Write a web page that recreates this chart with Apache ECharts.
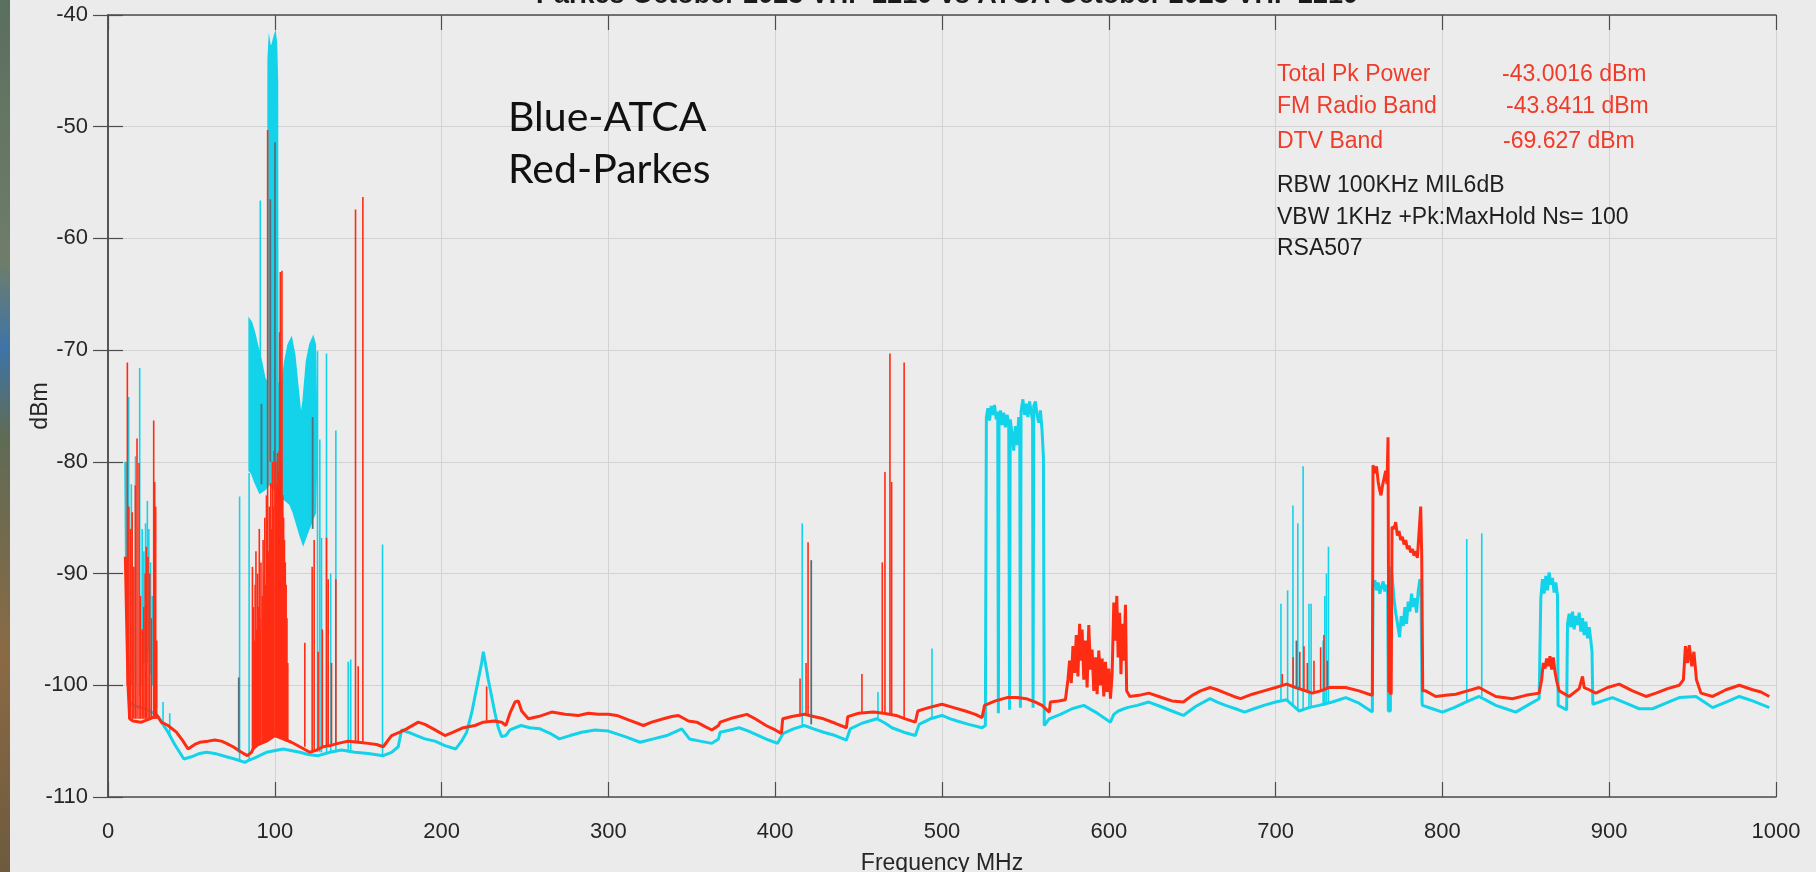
<!DOCTYPE html>
<html>
<head>
<meta charset="utf-8">
<script src="https://cdn.jsdelivr.net/npm/echarts@6/dist/echarts.min.js"></script>
<style>
html,body{margin:0;padding:0;background:#ebebeb;}
#chart{width:1816px;height:872px;}
</style>
</head>
<body>
<div id="chart"></div>
<script>
// ---------- axis ticks ----------
const xTicks = [0,100,200,300,400,500,600,700,800,900,1000];
const yTicks = [-110,-100,-90,-80,-70,-60,-50,-40];

// ---------- ATCA (cyan) trace: [MHz, dBm] ----------
const atcaTrace = [
[10.6,-80],[11,-88],[12,-97],[13,-101.5],[15,-101.8],[20,-102],[25,-102.3],[29.5,-102.7],[33,-103.5],[36,-104.2],[40,-105.3],[45.5,-106.6],[50,-106.4],[55,-106.1],[59,-106],[64,-106.1],[71,-106.4],[76,-106.6],[82,-106.9],[84.6,-106.7],
[88,-106.5],[95,-106],[105,-105.7],[115,-106],[120,-106.2],[126,-106.3],[133,-106],[140,-105.8],[148,-106],[156,-106.1],[165,-106.3],[170,-106],[174,-105.5],[176,-104],[180,-104.2],[185,-104.5],[190,-104.8],[196,-105],[202,-105.4],[208.5,-105.7],[212,-105],[215,-104.2],[218,-102.5],[220,-101],[222,-99.5],[224,-98],[225,-97],[226,-97.8],[228,-99.5],[230,-101],[232,-102.5],[234,-103.8],[236,-104.6],[238.5,-104.5],[241,-104],[247.6,-103.6],[253,-103.8],[259,-103.9],[265,-104.3],[270.6,-104.8],[277,-104.5],[284,-104.2],[292,-104],[300,-104.1],[310,-104.6],[319,-105.1],[327,-104.8],[335,-104.5],[344,-103.9],[348.6,-104.8],[355,-105],[362,-105.2],[366,-104.8],[367,-104.2],[373,-104],[378.4,-103.8],[384,-104.1],[390,-104.5],[396,-104.9],[401.4,-105.2],[404.8,-104.3],[411,-103.9],[417.4,-103.6],[423,-103.9],[429,-104.2],[436,-104.5],[442.7,-104.9],[445,-103.9],[452,-103.4],[461,-103],[466,-103.4],[470,-103.8],[477,-104.2],[484,-104.5],[486.3,-103.5],[493,-103],[500,-102.7],[505,-103],[509,-103.2],[516,-103.5],[524,-103.8],[526,-103.6],
[526.6,-76],[527.5,-75.2],[528.5,-76.3],[529.5,-75],[530.5,-75.8],[531.5,-74.9],[532.5,-76.2],[533.4,-75.5],[533.8,-102.5],[534.2,-76],[535,-75.4],[536,-76.7],[537,-75.6],[538,-76.9],[539,-75.8],[540,-76.5],[540.5,-102.2],[540.9,-76.2],[542,-77.5],[543,-79],[544,-76.8],[545,-78.5],[546,-76],[546.6,-77],[547,-102],[547.4,-75.5],[548.5,-74.4],[549.5,-75.8],[550.5,-74.8],[551.5,-76],[552.5,-74.6],[553.5,-75.6],[554.3,-76.3],[554.6,-102],[555,-75],[556,-74.6],[557,-75.8],[558,-76.5],[559,-75.4],[560,-77.2],[560.8,-79.6],[561.3,-103.6],
[562,-103.6],[564.3,-103],[571,-102.6],[578,-102.1],[585,-101.8],[592,-102.4],[601,-103.3],[603,-102.6],[605.7,-102.3],[611,-102],[617,-101.8],[624,-101.5],[631,-101.9],[637.8,-102.3],[644.7,-102.7],[652,-101.9],[660.7,-101.2],[665,-101.5],[670,-101.8],[676,-102.1],[681.4,-102.4],[687,-102.1],[693,-101.8],[700,-101.5],[706.6,-101.3],[714,-102.3],[720,-102],[726,-101.8],[734,-101.5],[742,-101.1],[750,-101.6],[758,-102.4],
[758.4,-91],[759.5,-90.6],[760.5,-91.5],[761.5,-90.8],[762.5,-91.8],[763.5,-91.2],[764.5,-90.7],[765.5,-91.6],[766.5,-91],[767.2,-91.8],[767.6,-102.3],[768.8,-102.3],[769.2,-89.4],[770,-90.5],[771,-92.3],[772,-93.5],[773,-94.4],[774.3,-95.7],[775.3,-93.8],[776.5,-94.7],[777.5,-93],[778.5,-94.5],[779.5,-92.5],[780.5,-93.4],[781.5,-91.8],[782.5,-93],[783.5,-92.2],[784.5,-93.5],[785.5,-91.6],[786.5,-90.5],[787.2,-91.5],[787.8,-101.5],
[788,-101.8],[794,-102.1],[800,-102.4],[807,-102],[814,-101.5],[822,-101],[827,-101.4],[832,-101.8],[838,-102.1],[844,-102.4],[851,-101.8],[858,-101.2],
[859,-92.2],[860,-90.5],[861,-91.8],[862,-90.2],[863,-91.5],[864,-89.9],[865,-91],[866,-90.4],[867,-91.7],[868,-90.8],[869,-92],[869.4,-101.8],[872,-102],[874.5,-102.2],[875,-94.5],[876,-93.6],[877,-94.8],[878,-93.4],[879,-95],[880,-93.8],[881,-94.6],[882,-93.5],[883,-95.2],[884,-94],[885,-95.5],[886,-94.3],[887,-95.8],[888,-94.8],[889,-96],[889.7,-97],[890.2,-101.7],[896,-101.4],[902,-101.1],[910,-101.6],[918,-102.1],[926,-102.1],[934,-101.6],[942,-101.1],[952,-101],[957,-101.5],[962,-102],[970,-101.5],[978,-101],[986,-101.4],[996,-102]
];

// ATCA FM-band envelope (upper and lower edge of the dense trace)
const atcaFmUpper = [[84.6,-67.2],[86,-67.5],[88,-68.5],[90,-69.8],[92,-71],[94,-72.5],[95.8,-73],[96,-44],[96.6,-42.2],[97.5,-43],[98.5,-42.6],[99.5,-42],[100.3,-41.6],[101,-42.5],[101.6,-46],[101.8,-73],[104.3,-72.8],[106,-71],[108,-69.5],[110,-68.9],[112,-70.5],[114,-73.5],[115.7,-76],[117,-74.5],[119,-71],[121,-69.5],[123,-68.8],[124.3,-69.5],[125,-76]];
const atcaFmLower = [[84.6,-80.8],[86,-81],[88,-81.8],[91,-82.8],[94,-82.5],[97,-82],[100,-82.5],[103,-83.2],[106,-83.4],[109,-83.8],[111,-84.5],[113,-85.5],[115,-86.5],[117,-87.4],[119,-86.6],[121,-85.8],[123,-85],[124.3,-84.6],[125,-80]];

// ATCA narrow spikes: [MHz, base dBm, peak dBm]
const atcaSpikes = [
[12.4,-95,-74.2],[14,-100,-82],[16.5,-100,-79.5],[19,-101,-71.6],[20.5,-100,-86],[21.5,-98,-88],[22.5,-97,-85.5],[23.6,-98,-83.5],[24.5,-97,-86],[25.5,-99,-89],[26.5,-100,-92],[29,-102,-97],[33,-103.5,-101.5],[37,-104.5,-102.5],
[78.9,-106.8,-83.1],[84.6,-106.7,-81],[91.3,-82,-56.6],[125.6,-106,-70.1],[127,-106,-78],[128,-106,-86.8],[131,-106,-70.3],[133.5,-106,-90],[136.6,-106,-77.2],[144,-106,-97.9],[145.5,-105.8,-97.7],[164.6,-106.3,-87.4],
[416.2,-103.7,-85.5],[461.6,-103,-100.6],[494,-103,-96.7],
[703.2,-101.3,-92.7],[707.2,-101.4,-91.5],[710.4,-101.8,-83.9],[713.3,-102.2,-85.5],[716.5,-102.3,-80.4],[720,-102.1,-92.7],[721.3,-102,-92.7],[728.5,-101.8,-96],[729.5,-101.8,-92],[730.5,-101.7,-90],[731.7,-101.6,-87.6],[814.6,-101.5,-86.9],[823.6,-101,-86.4]
];

// ---------- Parkes (red) trace: [MHz, dBm] ----------
const parkesTrace = [
[10.4,-88.5],[11,-93],[12,-100],[13,-103],[15,-103.2],[20,-103.3],[25,-103],[29.5,-102.7],[32,-103.3],[36,-103.6],[41,-104.2],[45,-105],[48,-105.7],[52,-105.3],[55,-105.1],[60,-105],[64,-104.9],[68,-105],[71,-105.2],[75,-105.5],[80,-106],[83.5,-106.3],[86,-106],[87,-105.7],[90,-105.3],[95,-105],[100,-104.5],[105,-104.8],[110,-105.1],[115,-105.5],[121,-106],[125,-105.8],[129,-105.5],[133,-105.4],[138,-105.2],[144,-105],[150,-105.1],[156,-105.2],[161,-105.3],[165,-105.5],[170,-104.5],[175,-104.2],[179,-103.9],[186,-103.3],[190,-103.5],[195,-103.9],[202,-104.5],[207,-104.2],[213,-103.8],[220,-103.6],[225,-103.3],[231.5,-103.2],[236,-103.3],[238.5,-103.6],[241,-102.5],[244,-101.5],[246,-101.4],[248,-102.3],[252,-103],[258,-102.8],[266,-102.4],[274,-102.6],[282,-102.7],[288,-102.5],[294,-102.6],[300,-102.6],[305,-102.7],[312,-103.1],[321,-103.6],[326,-103.3],[333,-103],[338,-102.8],[342,-102.7],[348,-103.2],[353,-103.3],[358,-103.7],[362,-104],[366,-103.6],[367,-103.3],[375,-102.9],[383,-102.6],[388,-103],[394.5,-103.6],[400,-104],[403.7,-104.3],[404.5,-103],[410,-102.8],[417.5,-102.6],[423,-102.8],[429,-103],[436,-103.4],[442.7,-103.8],[443.5,-102.8],[450,-102.5],[458.8,-102.4],[465,-102.5],[472.5,-102.7],[478,-103],[484,-103.3],[485.5,-102.3],[492,-102],[500,-101.7],[507,-102],[514,-102.3],[520,-102.6],[524,-102.9],[525.5,-101.8],[532,-101.4],[539,-101.1],[545,-101.1],[550.5,-101.2],[556,-101.5],[560,-101.8],[564.3,-102.4],[565,-101.5],[570,-101.4],[574,-101.3],
[575.5,-99.5],[576.5,-97.8],[577.5,-99.8],[578.5,-96.5],[579.5,-98.9],[580.5,-95.5],[581.5,-99.2],[582.5,-94.5],[583.3,-97.8],[584,-95],[585,-99.5],[586,-96],[587,-100.2],[588,-94.6],[589,-98.6],[590,-96.8],[591,-100.5],[592,-97.5],[593,-100.8],[594,-96.9],[595,-100],[596,-97.6],[597,-101],[598,-97.9],[599,-100.6],[600,-98.5],[601,-101.2],[602,-99],[603,-92.6],[604,-96],[604.8,-92],[605.6,-97.5],[606.5,-93.5],[607.3,-99],[608,-94.5],[609,-97.8],[610,-92.8],[610.7,-100.5],
[612.6,-101],[618,-100.9],[624,-100.7],[630,-101],[637.8,-101.4],[644.7,-101.5],[650,-100.9],[655,-100.5],[660.7,-100.2],[665,-100.4],[670,-100.7],[675,-101],[679,-101.2],[686,-100.8],[693,-100.5],[700,-100.2],[706.6,-99.9],[712,-100.2],[722,-100.7],[727,-100.5],[732,-100.2],[742,-100.2],[750,-100.5],[756,-100.8],[758,-100.9],
[758.4,-80.3],[759.5,-81],[760.5,-80.4],[761.5,-81.8],[762.5,-82.6],[763.2,-83],[764,-82.2],[765,-81.5],[766,-80.8],[766.8,-82],[767.4,-77.8],[767.9,-100.5],[769.3,-100.8],[769.8,-85.8],[771,-86],[772,-85.4],[773,-86.6],[774,-86.2],[775,-87],[776,-86.7],[777,-87.4],[778,-87],[779,-87.8],[780,-87.5],[781,-88.1],[782,-87.8],[783,-88.4],[784,-88],[785,-88.6],[786,-88.5],[787,-84],[787.6,-88.5],[788.2,-100.5],
[790,-100.5],[796,-101],[802,-100.9],[808,-100.8],[815,-100.5],[822,-100.2],[827,-100.6],[832,-101],[842,-101.2],[850,-100.9],[858,-100.7],
[859.5,-99.5],[860.5,-98],[861.5,-98.5],[862.5,-97.6],[863.5,-98.3],[864.5,-97.4],[865.5,-98.6],[866.5,-97.5],[867.5,-98.8],[868.5,-99.6],[870,-100.5],[876,-101],[882,-100.3],[884,-99.2],[885,-100.2],[888,-100.4],[892,-100.7],[899,-100.2],[906,-99.9],[914,-100.5],[922,-101],[928,-100.7],[935,-100.3],[942,-100],[944.5,-99.5],[945.7,-96.5],[947,-98],[948,-96.4],[949.5,-98.3],[950.8,-97],[952.3,-99.5],[955,-100.7],[962,-101],[970,-100.4],[978,-100],[986,-100.4],[991,-100.6],[996,-101]
];

// Parkes narrow spikes: [MHz, base dBm, peak dBm]
const parkesSpikes = [
[11.6,-100,-71.1],[12.5,-103,-84],[13.5,-103,-86],[14.5,-103,-84.5],[15.5,-103,-89.4],[16.4,-103,-82.1],[17.4,-103,-77.9],[18.6,-103,-80.1],[19.5,-103,-92],[20.5,-103,-95],[21.5,-103,-93],[22.3,-103,-90],[23,-103,-87.6],[24,-103,-88.5],[25,-103,-90],[26,-103,-94],[27.4,-103,-76.3],[28,-103,-81.8],[28.6,-103,-84],[29.2,-103,-96],
[86.6,-105.8,-89.4],[87.2,-105.7,-93],[87.7,-105.6,-96],[88.2,-105.6,-91],[88.7,-105.5,-88],[89.2,-105.4,-95],[89.7,-105.4,-90],[90.2,-105.3,-93],[90.7,-105.3,-86],[91.2,-105.2,-94],[91.7,-105.2,-89],[92.5,-105.1,-92],[93,-105.1,-87],[93.5,-105,-90],[94,-105,-85],[94.5,-105,-91],[95,-105,-83],[95.7,-105,-50.3],[96.2,-104.9,-88],[96.7,-104.8,-84],[97.6,-104.7,-81.9],[98.1,-104.7,-86],[98.6,-104.6,-80],[99.1,-104.6,-84],[99.6,-104.5,-79],[100.6,-104.5,-80],[101.1,-104.6,-82],[101.6,-104.6,-79.2],[102.1,-104.6,-81],[102.6,-104.7,-79],[102.9,-104.7,-68.4],[103.3,-104.7,-63],[103.8,-104.7,-80],[104.3,-104.8,-62.9],[104.8,-104.8,-83],[105.3,-104.8,-85],[105.8,-104.9,-87],[106.3,-104.9,-89],[106.8,-105,-91],[107.3,-105,-94],[107.8,-105,-98],
[118,-105.5,-96.2],[122.4,-105.9,-89.4],[123.6,-105.9,-87],[126,-105.8,-97],[128.5,-105.6,-95],[131,-105.5,-86.8],[132,-105.5,-90.5],[134,-105.4,-98],[136.6,-105.3,-90.5],[148.4,-105.1,-57.4],[150,-105.1,-98.3],[152.8,-105.1,-56.3],[227,-103.3,-100.1],
[414.9,-102.8,-99.4],[418.5,-102.6,-98],[419.7,-102.6,-87.2],[452,-102.5,-99],[464.2,-102.5,-89],[465.8,-102.5,-80.9],[468.8,-102.6,-70.3],[469.8,-102.6,-81.8],[477.3,-103,-71.1],
[704,-100,-99],[710.5,-100.2,-97.5],[714.5,-100.4,-97],[717,-100.5,-96.5],[719,-100.5,-98],[723,-100.6,-97.8],[727,-100.5,-96.6],[729,-100.4,-95.5],[731,-100.3,-97.8]
];

// Places where both traces overlap (appear dark): [MHz, low dBm, high dBm]
const overlapSpikes = [
[78.4,-106,-99.3],[92,-82,-74.8],[97.3,-80,-56.5],[100.1,-80,-51.4],[122.7,-86,-76],[421.6,-103.5,-88.8],[712.5,-100.3,-96]
];

// ---------- styles ----------
const CYAN = '#12d3ea';
const RED = '#ff2c14';
const DARK = '#55707a';
const TXT = '#262626';
const FONT = '"Liberation Sans", Arial, Helvetica, sans-serif';

function spikeRenderer(color, width) {
  return function (params, api) {
    const p0 = api.coord([api.value(0), api.value(1)]);
    const p1 = api.coord([api.value(0), api.value(2)]);
    return {
      type: 'line',
      shape: { x1: p0[0], y1: p0[1], x2: p1[0], y2: p1[1] },
      style: { stroke: color, lineWidth: width }
    };
  };
}

function bandRenderer(upper, lower, color) {
  return function (params, api) {
    if (params.dataIndex !== 0) return null;
    const pts = upper.map(p => api.coord(p)).concat(lower.slice().reverse().map(p => api.coord(p)));
    return { type: 'polygon', shape: { points: pts }, style: { fill: color, stroke: color, lineWidth: 1.5 } };
  };
}

const chart = echarts.init(document.getElementById('chart'), null, { renderer: 'canvas' });

const axisCommon = {
  type: 'value',
  axisLine: { show: true, lineStyle: { color: '#4d4d4d', width: 1.5 } },
  axisTick: { show: true, inside: true, length: 15, lineStyle: { color: '#4d4d4d', width: 1.2 } }
};

function annot(text, left, yMid, color) {
  return { type: 'text', left: left, top: yMid - 13, z: 100,
    style: { text: text, font: '23px ' + FONT, fill: color } };
}

chart.setOption({
  backgroundColor: '#ebebeb',
  animation: false,
  title: {
    text: 'Parkes October 2023 VHF 2210 vs ATCA October 2023 VHF 2210',
    left: 942, top: -23, textAlign: 'center',
    textStyle: { fontFamily: FONT, fontSize: 27, fontWeight: 'bold', color: '#1a1a1a' }
  },
  grid: { left: 108, right: 40, top: 15, bottom: 75, show: true, backgroundColor: '#ececec', borderWidth: 0,
          containLabel: false, outerBoundsMode: 'none' },
  xAxis: [
    Object.assign({}, axisCommon, {
      min: xTicks[0], max: xTicks[xTicks.length - 1], interval: 100, position: 'bottom',
      name: 'Frequency MHz', nameLocation: 'middle', nameGap: 55, nameMoveOverlap: false,
      nameTextStyle: { fontFamily: FONT, fontSize: 23, color: TXT },
      axisLabel: { margin: 24, fontFamily: FONT, fontSize: 22, color: TXT, formatter: v => String(v) },
      splitLine: { show: true, lineStyle: { color: '#d2d2d2', width: 1 } }
    }),
    Object.assign({}, axisCommon, {
      min: xTicks[0], max: xTicks[xTicks.length - 1], interval: 100, position: 'top',
      axisLabel: { show: false }, splitLine: { show: false }
    })
  ],
  yAxis: [
    Object.assign({}, axisCommon, {
      min: yTicks[0], max: yTicks[yTicks.length - 1], interval: 10, position: 'left',
      name: 'dBm', nameLocation: 'middle', nameGap: 56, nameRotate: 90, nameMoveOverlap: false,
      nameTextStyle: { fontFamily: FONT, fontSize: 23, color: TXT },
      axisLabel: { margin: 20, fontFamily: FONT, fontSize: 22, color: TXT, formatter: v => String(v) },
      splitLine: { show: true, lineStyle: { color: '#d2d2d2', width: 1 } }
    }),
    Object.assign({}, axisCommon, {
      min: yTicks[0], max: yTicks[yTicks.length - 1], interval: 10, position: 'right',
      axisLabel: { show: false }, splitLine: { show: false }
    })
  ],
  series: [
    { type: 'line', name: 'ATCA', data: atcaTrace, showSymbol: false, symbol: 'none',
      lineStyle: { color: CYAN, width: 3 }, z: 2 },
    { type: 'custom', name: 'ATCA FM', data: atcaFmUpper, encode: { x: 0, y: 1 },
      renderItem: bandRenderer(atcaFmUpper, atcaFmLower, CYAN), z: 3, clip: true },
    { type: 'custom', name: 'ATCA spikes', data: atcaSpikes, encode: { x: 0, y: [1, 2] },
      renderItem: spikeRenderer(CYAN, 1.6), z: 3, clip: true },
    { type: 'line', name: 'Parkes', data: parkesTrace, showSymbol: false, symbol: 'none',
      lineStyle: { color: RED, width: 3 }, z: 4 },
    { type: 'custom', name: 'Parkes spikes', data: parkesSpikes, encode: { x: 0, y: [1, 2] },
      renderItem: spikeRenderer(RED, 1.6), z: 5, clip: true },
    { type: 'custom', name: 'Overlap', data: overlapSpikes, encode: { x: 0, y: [1, 2] },
      renderItem: spikeRenderer(DARK, 1.8), z: 6, clip: true }
  ],
  graphic: [
    { type: 'rect', left: 0, top: 0, z: 100, shape: { width: 10, height: 872 },
      style: { fill: new echarts.graphic.LinearGradient(0, 0, 0, 1, [
        { offset: 0, color: '#5b6f5e' }, { offset: 0.3, color: '#6f7d6a' }, { offset: 0.4, color: '#3e74a8' },
        { offset: 0.5, color: '#5f6b55' }, { offset: 0.75, color: '#8a6a45' }, { offset: 1, color: '#6e5a3e' }]) } },
    { type: 'text', left: 508, top: 97, z: 100,
      style: { text: 'Blue-ATCA', font: '41px Lato, "Open Sans", sans-serif', fill: '#111' } },
    { type: 'text', left: 508, top: 149, z: 100,
      style: { text: 'Red-Parkes', font: '41px Lato, "Open Sans", sans-serif', fill: '#111' } },
    annot('Total Pk Power', 1277, 76, '#ef3b2a'),
    annot('-43.0016 dBm', 1502, 76, '#ef3b2a'),
    annot('FM Radio Band', 1277, 108, '#ef3b2a'),
    annot('-43.8411 dBm', 1506, 108, '#ef3b2a'),
    annot('DTV Band', 1277, 143, '#ef3b2a'),
    annot('-69.627 dBm', 1503, 143, '#ef3b2a'),
    annot('RBW 100KHz MIL6dB', 1277, 187, '#1e1e1e'),
    annot('VBW 1KHz +Pk:MaxHold Ns= 100', 1277, 219, '#1e1e1e'),
    annot('RSA507', 1277, 250, '#1e1e1e')
  ]
});
</script>
</body>
</html>
